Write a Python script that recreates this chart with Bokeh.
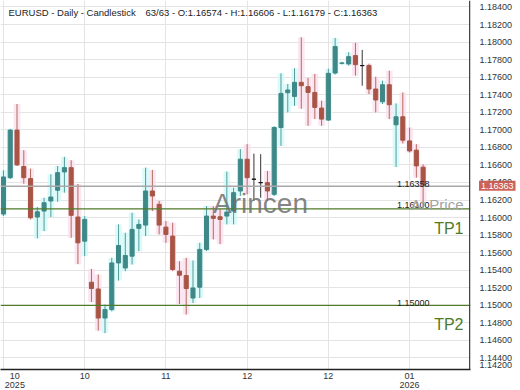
from bokeh.plotting import figure
from bokeh.models import (Range1d, FixedTicker, Span, Label, ColumnDataSource,
                          NumeralTickFormatter, LinearAxis)
from bokeh.embed import file_html
from bokeh.resources import INLINE

# ---- data ----
open_ = [1.16040, 1.16455, 1.16997, 1.16581, 1.16444, 1.16006, 1.16074, 1.16189, 1.16311, 1.16520,
         1.16569, 1.16006, 1.15731, 1.15263, 1.15186, 1.14855, 1.14951, 1.15483, 1.15426, 1.15560,
         1.15877, 1.15914, 1.16303, 1.16151, 1.15891, 1.15789, 1.15389, 1.15339, 1.15083, 1.15206,
         1.15637, 1.16017, 1.16009, 1.16017, 1.16074, 1.16303, 1.16665, 1.16437, 1.16398, 1.16398,
         1.16265, 1.17026, 1.17423, 1.17381, 1.17541, 1.17492, 1.17426, 1.17248, 1.17111, 1.17648,
         1.17758, 1.17751, 1.17846, 1.17732, 1.17732, 1.17465, 1.17320, 1.17514, 1.17057, 1.17149,
         1.16874, 1.16768, 1.16574]
high = [1.16539, 1.17011, 1.17294, 1.16768, 1.16558, 1.16120, 1.16226, 1.16494, 1.16589, 1.16692,
        1.16654, 1.16383, 1.16017, 1.15415, 1.15351, 1.15008, 1.15541, 1.15922, 1.15826, 1.16055,
        1.15979, 1.16569, 1.16543, 1.16189, 1.15960, 1.15941, 1.15503, 1.15541, 1.15511, 1.15712,
        1.16131, 1.16131, 1.16097, 1.16524, 1.16341, 1.16780, 1.16837, 1.16729, 1.16722, 1.16532,
        1.17040, 1.17644, 1.17522, 1.17701, 1.18055, 1.17591, 1.17637, 1.17332, 1.17697, 1.18048,
        1.17775, 1.17884, 1.17991, 1.17911, 1.17754, 1.17606, 1.17560, 1.17674, 1.17301, 1.17426,
        1.17026, 1.16837, 1.16606]
low = [1.16017, 1.16440, 1.16589, 1.16386, 1.15979, 1.15762, 1.15846, 1.16006, 1.16181, 1.16284,
       1.15769, 1.15469, 1.15560, 1.15038, 1.14711, 1.14683, 1.14931, 1.15282, 1.15389, 1.15465,
       1.15617, 1.15789, 1.16074, 1.15808, 1.15712, 1.15389, 1.15015, 1.14894, 1.15026, 1.15083,
       1.15617, 1.15751, 1.15697, 1.15922, 1.15922, 1.16246, 1.16265, 1.16189, 1.16226, 1.16189,
       1.16246, 1.16817, 1.17198, 1.17274, 1.17240, 1.17046, 1.17122, 1.17046, 1.17103, 1.17630,
       1.17745, 1.17732, 1.17617, 1.17503, 1.17408, 1.17198, 1.17294, 1.17122, 1.16577, 1.16844,
       1.16741, 1.16455, 1.16179]
close = [1.16463, 1.16997, 1.16600, 1.16455, 1.15998, 1.16066, 1.16169, 1.16234, 1.16512, 1.16569,
         1.16025, 1.15712, 1.15979, 1.15191, 1.14855, 1.14951, 1.15483, 1.15682, 1.15568, 1.15865,
         1.15922, 1.16303, 1.16246, 1.15914, 1.15808, 1.15408, 1.15343, 1.15191, 1.15198, 1.15637,
         1.16017, 1.15991, 1.15979, 1.16063, 1.16284, 1.16665, 1.16455, 1.16437, 1.16398, 1.16303,
         1.17026, 1.17415, 1.17454, 1.17541, 1.17503, 1.17426, 1.17255, 1.17122, 1.17644, 1.17949,
         1.17762, 1.17834, 1.17743, 1.17732, 1.17465, 1.17340, 1.17514, 1.17286, 1.17149, 1.16882,
         1.16760, 1.16589, 1.16363]

grid_idx = [0, 12, 24, 36, 48, 60]
month_labels = ["10", "10", "11", "12", "12", "01"]
year_labels = ["2025", "2026"]
y_ticks = [1.144, 1.146, 1.148, 1.150, 1.152, 1.154, 1.156, 1.158, 1.160, 1.162, 1.164,
           1.166, 1.168, 1.170, 1.172, 1.174, 1.176, 1.178, 1.180, 1.182, 1.184]
y_bottom_label = "1.14200"

title_left = "EURUSD - Daily - Candlestick"
title_right = "63/63 - O:1.16574 - H:1.16606 - L:1.16179 - C:1.16363"
price_line = 1.16358
last_price = 1.16363
tp1 = 1.16100
tp2 = 1.15000

# ---- styling ----
UP = "#3f8888"
DOWN = "#a85545"
DOJI = "#111111"
FONT = "Liberation Sans"
GREEN = "#4f7a28"

n = len(open_)
idx = list(range(n))
colors, glow = [], []
for o, c in zip(open_, close):
    if c > o:
        colors.append(UP); glow.append("#d2fafa")
    elif c < o:
        colors.append(DOWN); glow.append("#fbe0ee")
    else:
        colors.append(DOJI); glow.append("#ffffff")

src = ColumnDataSource(dict(
    x=idx, o=open_, h=high, l=low, c=close,
    top=[max(a, b) for a, b in zip(open_, close)],
    bot=[min(a, b) for a, b in zip(open_, close)],
    color=colors, glow=glow))

FRAME_W, FRAME_H = 470, 368
PXY = 8750.0                     # px per price unit
X0, X1 = -0.44, 69.0
Y1 = 1.18474
Y0 = Y1 - FRAME_H / PXY
PXX = FRAME_W / (X1 - X0)        # px per bar

p = figure(width=520, height=390, x_range=Range1d(X0, X1), y_range=Range1d(Y0, Y1),
           output_backend="svg", toolbar_location=None, y_axis_location="right")
p.min_border = 0
p.min_border_left = 0
p.min_border_top = 0
p.min_border_right = 50
p.min_border_bottom = 0
p.outline_line_color = None
p.background_fill_color = "white"
p.border_fill_color = "white"

p.xgrid.ticker = FixedTicker(ticks=grid_idx)
p.ygrid.ticker = FixedTicker(ticks=y_ticks)
p.xgrid.grid_line_color = "#e4e4e4"
p.ygrid.grid_line_color = "#e4e4e4"

# first month label sits a little right of its grid line (as in the reference)
first_lab_pos = grid_idx[0] + 11.4 / PXX
month_pos = [first_lab_pos] + grid_idx[1:]


def style_x(ax, standoff):
    ax.major_tick_out = 0
    ax.major_tick_in = 0
    ax.minor_tick_out = 0
    ax.minor_tick_in = 0
    ax.major_label_standoff = standoff
    ax.major_label_text_font = FONT
    ax.major_label_text_font_size = "9px"
    ax.major_label_text_color = "#333333"


xa = p.xaxis[0]
xa.ticker = FixedTicker(ticks=month_pos)
xa.major_label_overrides = {pos: lab for pos, lab in zip(month_pos, month_labels)}
style_x(xa, 3)
xa.axis_line_color = "#222222"
xa.axis_line_width = 1.5

year_pos = [first_lab_pos, grid_idx[-1]]
xa2 = LinearAxis(ticker=FixedTicker(ticks=year_pos),
                 major_label_overrides={pos: lab for pos, lab in zip(year_pos, year_labels)})
style_x(xa2, 0)
xa2.axis_line_color = None
p.add_layout(xa2, "below")

ya = p.yaxis[0]
bottom_tick = Y0 + 4 / PXY
ya.ticker = FixedTicker(ticks=y_ticks + [bottom_tick])
ya.formatter = NumeralTickFormatter(format="0.00000")
ya.major_label_overrides = {bottom_tick: y_bottom_label}
ya.major_tick_out = 0
ya.major_tick_in = 0
ya.minor_tick_out = 0
ya.minor_tick_in = 0
ya.major_label_standoff = -28
ya.major_label_text_font = FONT
ya.major_label_text_font_size = "9px"
ya.major_label_text_color = "#333333"
ya.axis_line_color = None

# glow columns
p.vbar(x="x", top="h", bottom="l", width=1.0, fill_color="glow", line_color=None,
       fill_alpha=0.8, source=src)

# horizontal levels
p.add_layout(Span(location=price_line, dimension="width", line_color="#a8a8a8", line_width=1.5))
p.add_layout(Span(location=tp1, dimension="width", line_color=GREEN, line_width=1.2))
p.add_layout(Span(location=tp2, dimension="width", line_color=GREEN, line_width=1.2))

# candles
p.segment(x0="x", y0="l", x1="x", y1="h", line_color="color", line_alpha=0.85, line_width=1, source=src)
p.vbar(x="x", top="top", bottom="bot", width=0.6, fill_color="color", line_color="color",
       line_width=1, source=src)

# right edge line of the price pane
p.add_layout(Span(location=X1 - 0.75 / PXX, dimension="height", line_color="#444444", line_width=1.5))


def lab(text, x, y, size, color, align="left", baseline="alphabetic", place="center", **kw):
    l = Label(x=x, y=y, text=text, text_font=FONT, text_font_size=size, text_color=color,
              text_align=align, text_baseline=baseline, **kw)
    p.add_layout(l, place)
    return l


# watermark
lab("Arincen", X0 + 260 / PXX, tp1 + 5.5 / PXY, "28px", "#6f6f6f", align="center", text_alpha=0.85)

# titles
lab(title_left, X0 + 8 / PXX, Y1 - 12 / PXY, "9.5px", "#222222", baseline="middle")
lab(title_right, X0 + 145 / PXX, Y1 - 12 / PXY, "9.5px", "#222222", baseline="middle")

# level value labels
xr = X0 + 429 / PXX
lab(f"{price_line:.5f}", xr, price_line + 2.5 / PXY, "9px", "#222222", align="right")
lab(f"{tp1:.5f}", xr, tp1 + 3.4 / PXY, "9px", "#222222", align="right")
lab(f"{tp2:.5f}", xr, tp2 + 2.3 / PXY, "9px", "#222222", align="right")

xt = X0 + 463 / PXX
lab("At Price", xt, tp1 + 4.5 / PXY, "15px", "#a3a3a3", align="right")
lab("TP1", xt, tp1 - 19.5 / PXY, "16px", GREEN, align="right")
lab("TP2", xt, tp2 - 19.3 / PXY, "16px", GREEN, align="right")

# last price tag on the axis: lives in the right side panel, next to the frame
tag = Label(x=X0 + 478.5 / PXX, y=last_price, text=f"{last_price:.5f}", text_font=FONT,
            text_font_size="9px", text_color="white", text_align="left", text_baseline="middle",
            background_fill_color="#c9574b", background_fill_alpha=0.92, padding=2)
p.right = [tag] + list(p.right)

open("out.html", "w").write(file_html(p, INLINE))
